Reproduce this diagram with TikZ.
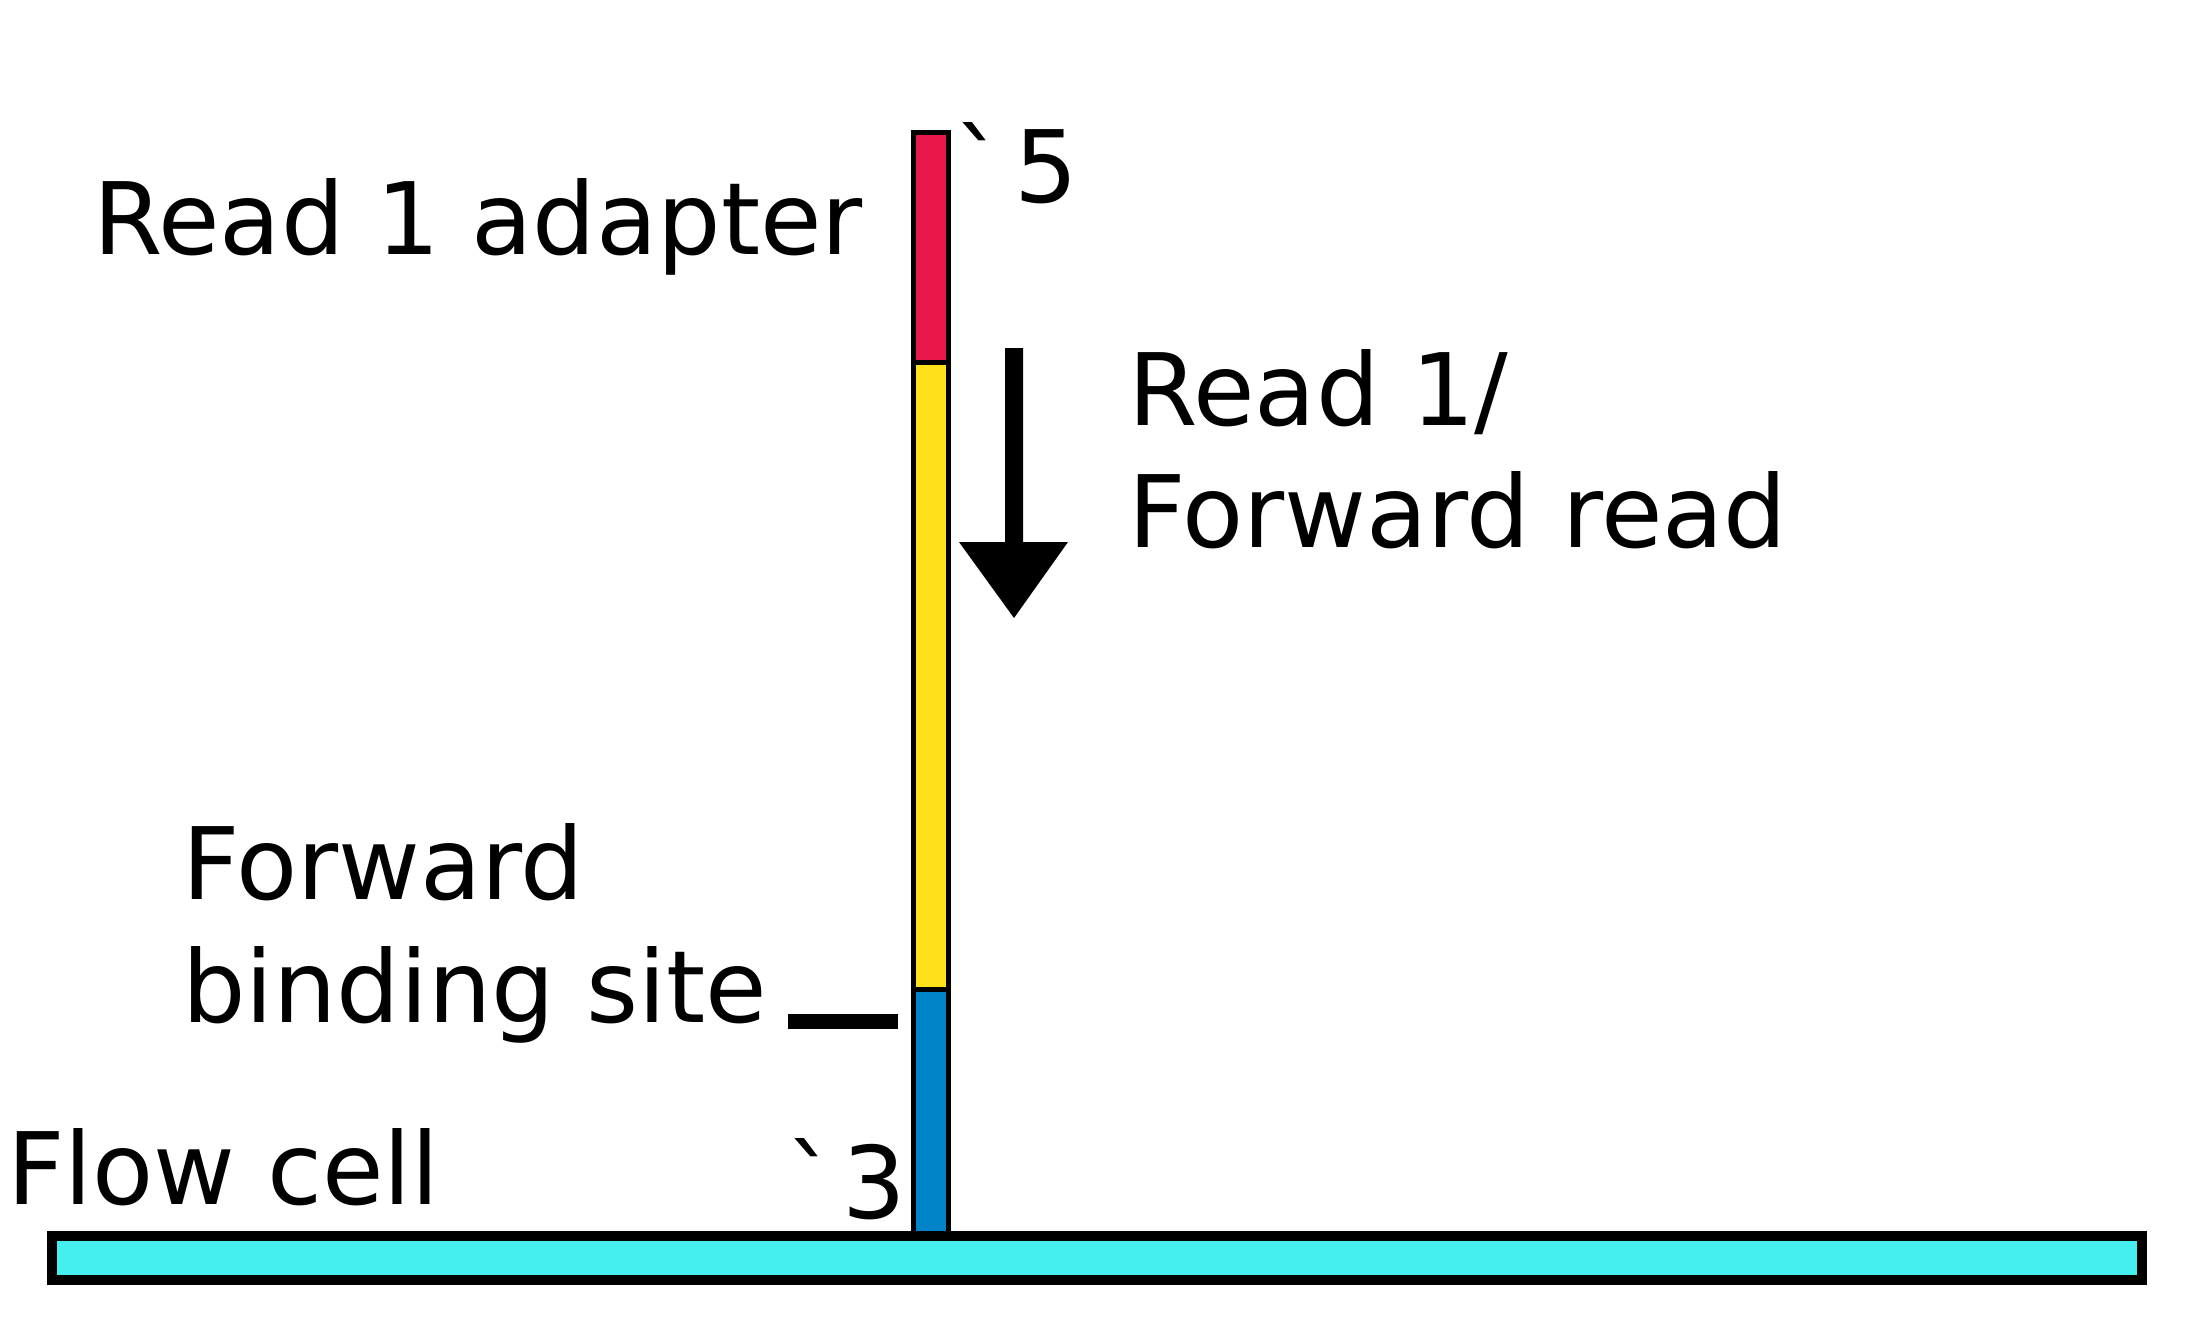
\documentclass[tikz,border=0pt]{standalone}
\usepackage{fontspec}
\newfontfamily\dvs{DejaVu Sans}
\definecolor{adred}{HTML}{E8194A}
\definecolor{readyel}{HTML}{FFE01A}
\definecolor{bindblue}{HTML}{0083C8}
\definecolor{cellcyan}{HTML}{45EFF0}
\tikzset{
  lbl/.style={anchor=base west, inner sep=0pt, font=\dvs\fontsize{100}{122}\selectfont},
  seg/.style={draw=black, line width=5pt},
}
\begin{document}
\begin{tikzpicture}[x=1pt,y=-1pt]
\useasboundingbox (0,0) rectangle (2200,1324);
% strand segments
\path[seg, fill=bindblue] (913.5,989) rectangle (948.5,1236);
\path[seg, fill=readyel] (913.5,362) rectangle (948.5,989);
\path[seg, fill=adred] (913.5,133) rectangle (948.5,362);
% flow cell
\draw[line width=10pt, fill=cellcyan] (52,1236) rectangle (2142,1280);
% read direction arrow
\fill[black] (1005,348) -- (1023,348) -- (1023,542) -- (1068,542) -- (1014,618) -- (959,542) -- (1005,542) -- cycle;
% binding site marker
\coordinate (bs1) at (788,1021.5);
\coordinate (bs2) at (898,1021.5);
\draw[line width=15pt] (bs1) -- (bs2);
% labels
\node[lbl] (adapter) at (93,255) {Read 1 adapter};
\node[lbl] (five) at (954,203) {\textasciigrave\kern10pt 5};
\node[lbl] (read1a) at (1128,425) {Read 1/};
\node[lbl] (read1b) at (1128,547) {Forward read};
\node[lbl] (fwd1) at (182,899) {Forward};
\node[lbl] (fwd2) at (182,1022) {binding site};
\node[lbl] (flow) at (7,1204) {Flow cell};
\node[lbl] (three) at (786,1218) {\textasciigrave\kern6pt 3};
\end{tikzpicture}
\end{document}
